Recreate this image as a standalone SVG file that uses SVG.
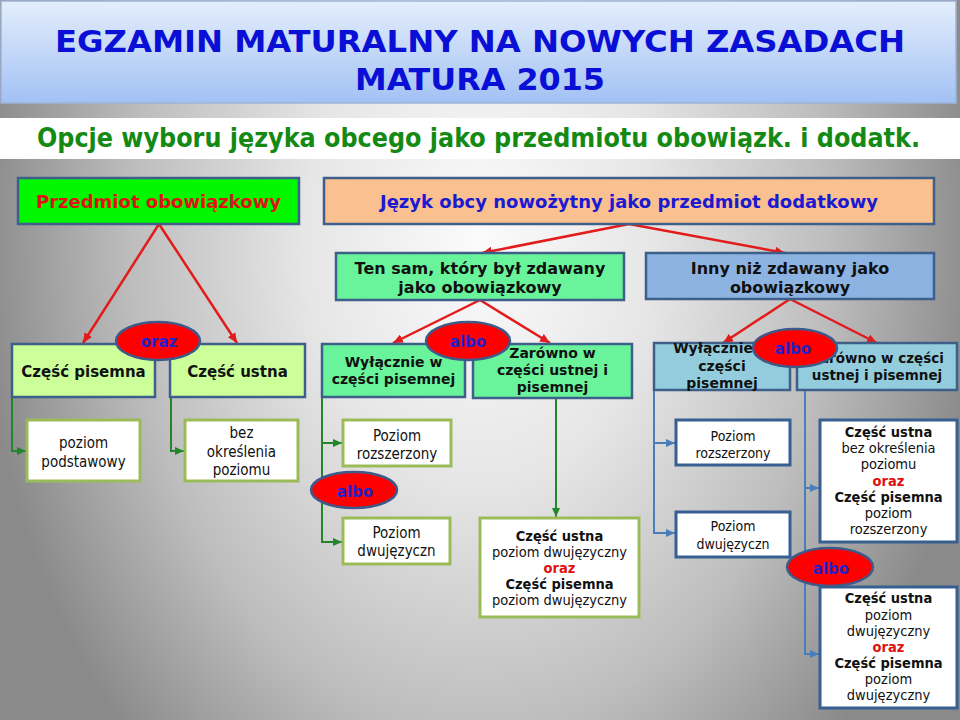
<svg xmlns="http://www.w3.org/2000/svg" width="960" height="720" viewBox="0 0 960 720">
<defs>
  <radialGradient id="bg" gradientUnits="userSpaceOnUse" cx="480" cy="240" r="500" gradientTransform="translate(480,240) scale(1,1.4) translate(-480,-240)">
    <stop offset="0" stop-color="#fbfbfb"/>
    <stop offset="0.35" stop-color="#e6e6e6"/>
    <stop offset="0.7" stop-color="#bdbdbd"/>
    <stop offset="1" stop-color="#8a8a8a"/>
  </radialGradient>
  <linearGradient id="banner" x1="0" y1="0" x2="0" y2="1">
    <stop offset="0" stop-color="#e4eefc"/>
    <stop offset="1" stop-color="#a2c1f4"/>
  </linearGradient>
  <marker id="ar" markerUnits="userSpaceOnUse" markerWidth="10" markerHeight="9" refX="10" refY="4.5" orient="auto">
    <path d="M0,0 L10,4.5 L0,9 z" fill="#e21b1b"/>
  </marker>
  <marker id="ag" markerUnits="userSpaceOnUse" markerWidth="9" markerHeight="8" refX="9" refY="4" orient="auto">
    <path d="M0,0 L9,4 L0,8 z" fill="#23862a"/>
  </marker>
  <marker id="ab" markerUnits="userSpaceOnUse" markerWidth="9" markerHeight="8" refX="9" refY="4" orient="auto">
    <path d="M0,0 L9,4 L0,8 z" fill="#4a7ebb"/>
  </marker>
  <style>
    .b1 { stroke:#3d5f8a; stroke-width:2.5; }
    .lg { fill:#fff; stroke:#9bbb59; stroke-width:3; }
    .lb { fill:#fff; stroke:#375f92; stroke-width:3; }
    .t1 { font-family:"DejaVu Sans", Verdana, sans-serif; font-weight:bold; font-size:18px; text-anchor:middle; }
    .t2 { font-family:"DejaVu Sans", Verdana, sans-serif; font-weight:bold; font-size:16px; text-anchor:middle; fill:#111; }
    .t3 { font-family:"DejaVu Sans", Verdana, sans-serif; font-weight:bold; font-size:14px; text-anchor:middle; fill:#111; }
    .t4 { font-family:"DejaVu Sans Condensed", "DejaVu Sans", sans-serif; font-size:15px; text-anchor:middle; fill:#111; }
    .t4s { font-family:"DejaVu Sans Condensed", "DejaVu Sans", sans-serif; font-size:14px; text-anchor:middle; fill:#111; }
    .t5 { font-family:"DejaVu Sans Condensed", "DejaVu Sans", sans-serif; font-size:14.5px; text-anchor:middle; fill:#111; }
    .bd { font-weight:bold; }
    .rd { font-weight:bold; fill:#e01010; }
    .el { fill:#ff0000; stroke:#3d5a8a; stroke-width:2.5; }
    .et { font-family:"DejaVu Sans", Verdana, sans-serif; font-weight:bold; font-size:15px; fill:#2222cc; text-anchor:middle; }
    .cr { fill:none; stroke:#e21b1b; stroke-width:2.5; }
    .cg { fill:none; stroke:#23862a; stroke-width:2; }
    .cb { fill:none; stroke:#4a7ebb; stroke-width:2; }
  </style>
</defs>

<rect x="0" y="0" width="960" height="720" fill="url(#bg)"/>
<rect x="1" y="1" width="955" height="102" fill="url(#banner)" stroke="#9fb3d6" stroke-width="1.5"/>
<rect x="0" y="118" width="960" height="41" fill="#ffffff"/>
<text x="480" y="52" font-family="'DejaVu Sans Condensed', 'DejaVu Sans', sans-serif" font-weight="bold" font-size="31" fill="#0a0fd6" text-anchor="middle" textLength="850" lengthAdjust="spacingAndGlyphs">EGZAMIN MATURALNY NA NOWYCH ZASADACH</text>
<text x="480" y="90" font-family="'DejaVu Sans Condensed', 'DejaVu Sans', sans-serif" font-weight="bold" font-size="31" fill="#0a0fd6" text-anchor="middle" textLength="250" lengthAdjust="spacingAndGlyphs">MATURA 2015</text>
<text x="478.5" y="147" font-family="'DejaVu Sans Condensed', 'DejaVu Sans', sans-serif" font-weight="bold" font-size="26" fill="#148a14" text-anchor="middle" textLength="883" lengthAdjust="spacingAndGlyphs">Opcje wyboru języka obcego jako przedmiotu obowiązk. i dodatk.</text>

<g id="connectors">
  <path class="cr" d="M159,224 L83,343" marker-end="url(#ar)"/>
  <path class="cr" d="M159,224 L237,343" marker-end="url(#ar)"/>
  <path class="cr" d="M629,224 L482,253" marker-end="url(#ar)"/>
  <path class="cr" d="M629,224 L785,253" marker-end="url(#ar)"/>
  <path class="cr" d="M480,300 L393,343" marker-end="url(#ar)"/>
  <path class="cr" d="M480,300 L550,343" marker-end="url(#ar)"/>
  <path class="cr" d="M790,299 L723,343" marker-end="url(#ar)"/>
  <path class="cr" d="M790,299 L877,343" marker-end="url(#ar)"/>
  <path class="cg" d="M12,397 V451 H26" marker-end="url(#ag)"/>
  <path class="cg" d="M171,397 V451 H184" marker-end="url(#ag)"/>
  <path class="cg" d="M322,397 V443 H342" marker-end="url(#ag)"/>
  <path class="cg" d="M322,443 V542 H342" marker-end="url(#ag)"/>
  <path class="cg" d="M556,398 V517" marker-end="url(#ag)"/>
  <path class="cb" d="M654,390 V443 H675" marker-end="url(#ab)"/>
  <path class="cb" d="M654,443 V533 H675" marker-end="url(#ab)"/>
  <path class="cb" d="M805,390 V488 H819" marker-end="url(#ab)"/>
  <path class="cb" d="M805,488 V654 H819" marker-end="url(#ab)"/>
</g>

<g id="przedmiot-obowiazkowy">
  <rect class="b1" x="18" y="178" width="281" height="46" fill="#00f700"/>
  <text class="t1" x="158.5" y="208" fill="#dd1414">Przedmiot obowiązkowy</text>
</g>
<g id="jezyk-dodatkowy">
  <rect class="b1" x="324" y="178" width="610" height="46" fill="#fac090"/>
  <text class="t1" x="629" y="208" fill="#1a1ad0">Język obcy nowożytny jako przedmiot dodatkowy</text>
</g>
<g id="ten-sam">
  <rect class="b1" x="336" y="253" width="288" height="47" fill="#69f49c"/>
  <text class="t2" x="480" y="274">Ten sam, który był zdawany</text>
  <text class="t2" x="480" y="293">jako obowiązkowy</text>
</g>
<g id="inny">
  <rect class="b1" x="646" y="253" width="288" height="46" fill="#8db3e2"/>
  <text class="t2" x="790" y="274">Inny niż zdawany jako</text>
  <text class="t2" x="790" y="293">obowiązkowy</text>
</g>
<g id="czesc-pisemna">
  <rect class="b1" x="12" y="344" width="143" height="53" fill="#ccff99"/>
  <text class="t3" x="83.5" y="377" style="font-size:15px">Część pisemna</text>
</g>
<g id="czesc-ustna">
  <rect class="b1" x="170" y="344" width="135" height="53" fill="#ccff99"/>
  <text class="t3" x="237.5" y="377" style="font-size:15px">Część ustna</text>
</g>
<g id="wylacznie-1">
  <rect class="b1" x="322" y="344" width="143" height="53" fill="#69f49c"/>
  <text class="t3" x="393.5" y="367">Wyłącznie w</text>
  <text class="t3" x="393.5" y="384">części pisemnej</text>
</g>
<g id="zarowno-1">
  <rect class="b1" x="473" y="344" width="159" height="54" fill="#69f49c"/>
  <text class="t3" x="552.5" y="358">Zarówno w</text>
  <text class="t3" x="552.5" y="375">części ustnej i</text>
  <text class="t3" x="552.5" y="392">pisemnej</text>
</g>
<g id="wylacznie-2">
  <rect class="b1" x="654" y="343" width="136" height="47" fill="#93cddd"/>
  <text class="t3" x="722" y="353">Wyłącznie w</text>
  <text class="t3" x="722" y="371">części</text>
  <text class="t3" x="722" y="388">pisemnej</text>
</g>
<g id="zarowno-2">
  <rect class="b1" x="797" y="343" width="160" height="47" fill="#93cddd"/>
  <text class="t3" x="877" y="363" style="font-size:13.5px">Zarówno w części</text>
  <text class="t3" x="877" y="380" style="font-size:13.5px">ustnej i pisemnej</text>
</g>

<g id="poziom-podstawowy">
  <rect class="lg" x="27" y="420" width="113" height="61"/>
  <text class="t4" x="83.5" y="448">poziom</text>
  <text class="t4" x="83.5" y="467">podstawowy</text>
</g>
<g id="bez-okreslenia">
  <rect class="lg" x="185" y="420" width="113" height="61"/>
  <text class="t4" x="241.5" y="438">bez</text>
  <text class="t4" x="241.5" y="457">określenia</text>
  <text class="t4" x="241.5" y="475">poziomu</text>
</g>
<g id="rozszerzony-1">
  <rect class="lg" x="343" y="420" width="108" height="46"/>
  <text class="t4" x="397" y="441">Poziom</text>
  <text class="t4" x="397" y="459">rozszerzony</text>
</g>
<g id="dwujezyczny-1">
  <rect class="lg" x="343" y="518" width="107" height="46"/>
  <text class="t4" x="396.5" y="538">Poziom</text>
  <text class="t4" x="396.5" y="556">dwujęzyczn</text>
</g>
<g id="rozszerzony-2">
  <rect class="lb" x="676" y="420" width="114" height="45"/>
  <text class="t4s" x="733" y="441">Poziom</text>
  <text class="t4s" x="733" y="458">rozszerzony</text>
</g>
<g id="dwujezyczny-2">
  <rect class="lb" x="676" y="512" width="114" height="45"/>
  <text class="t4s" x="733" y="531">Poziom</text>
  <text class="t4s" x="733" y="549">dwujęzyczn</text>
</g>
<g id="ustna-pisemna-dwujezyczny">
  <rect class="lg" x="480" y="518" width="159" height="99"/>
  <text class="t5 bd" x="559.5" y="541">Część ustna</text>
  <text class="t5" x="559.5" y="557">poziom dwujęzyczny</text>
  <text class="t5 rd" x="559.5" y="573">oraz</text>
  <text class="t5 bd" x="559.5" y="589">Część pisemna</text>
  <text class="t5" x="559.5" y="605">poziom dwujęzyczny</text>
</g>
<g id="ustna-bez-pisemna-rozszerzony">
  <rect class="lb" x="820" y="420" width="137" height="122"/>
  <text class="t5 bd" x="888.5" y="437">Część ustna</text>
  <text class="t5" x="888.5" y="453">bez określenia</text>
  <text class="t5" x="888.5" y="469">poziomu</text>
  <text class="t5 rd" x="888.5" y="486">oraz</text>
  <text class="t5 bd" x="888.5" y="502">Część pisemna</text>
  <text class="t5" x="888.5" y="518">poziom</text>
  <text class="t5" x="888.5" y="534">rozszerzony</text>
</g>
<g id="ustna-pisemna-dwujezyczny-2">
  <rect class="lb" x="820" y="587" width="137" height="121"/>
  <text class="t5 bd" x="888.5" y="603">Część ustna</text>
  <text class="t5" x="888.5" y="620">poziom</text>
  <text class="t5" x="888.5" y="636">dwujęzyczny</text>
  <text class="t5 rd" x="888.5" y="652">oraz</text>
  <text class="t5 bd" x="888.5" y="668">Część pisemna</text>
  <text class="t5" x="888.5" y="684">poziom</text>
  <text class="t5" x="888.5" y="700">dwujęzyczny</text>
</g>

<g id="oraz-1">
  <ellipse class="el" cx="158" cy="341" rx="42" ry="19"/>
  <text class="et" x="159" y="347">oraz</text>
</g>
<g id="albo-1">
  <ellipse class="el" cx="468" cy="341" rx="42" ry="19"/>
  <text class="et" x="468" y="347">albo</text>
</g>
<g id="albo-2">
  <ellipse class="el" cx="795" cy="348" rx="42" ry="19"/>
  <text class="et" x="793" y="354">albo</text>
</g>
<g id="albo-3">
  <ellipse class="el" cx="354" cy="490" rx="43" ry="18"/>
  <text class="et" x="355" y="497">albo</text>
</g>
<g id="albo-4">
  <ellipse class="el" cx="830" cy="567" rx="43" ry="19"/>
  <text class="et" x="831" y="574">albo</text>
</g>
</svg>
